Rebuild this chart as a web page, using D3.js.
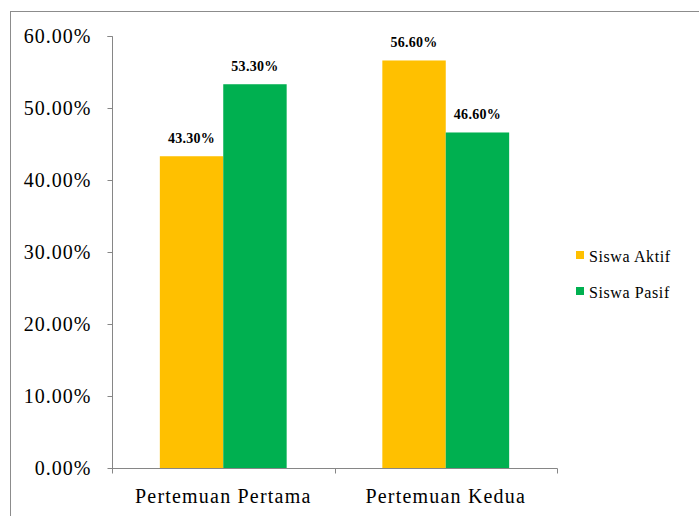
<!DOCTYPE html>
<html>
<head>
<meta charset="utf-8">
<script src="https://cdn.jsdelivr.net/npm/d3@7"></script>
<style>
  html, body { margin: 0; padding: 0; background: #fff; }
  svg { display: block; }
</style>
</head>
<body>
<svg id="chart" width="699" height="516"></svg>
<script>
// Chart data
const categories = ["Pertemuan Pertama", "Pertemuan Kedua"];
const seriesNames = ["Siswa Aktif", "Siswa Pasif"];
const siswaAktif = [43.3, 56.6];
const siswaPasif = [53.3, 46.6];
const seriesColors = ["#FFC000", "#00B050"];
const yTicks = [0, 10, 20, 30, 40, 50, 60];

const seriesValues = [siswaAktif, siswaPasif];
const rows = categories.map((c, i) => ({
  category: c,
  values: seriesNames.map((s, j) => ({ series: s, value: seriesValues[j][i], color: seriesColors[j] }))
}));

const FONT = '"Liberation Serif", "Times New Roman", serif';
const svg = d3.select("#chart");
const axisColor = "#868686";

// outer chart frame
svg.append("rect")
  .attr("x", 10.5).attr("y", 11.5)
  .attr("width", 800).attr("height", 600)
  .attr("fill", "none").attr("stroke", "#8c8c8c").attr("stroke-width", 1);

const plot = { left: 112, right: 557, top: 36, bottom: 468 };

const x0 = d3.scaleBand().domain(categories).range([plot.left, plot.right]).padding(0);
const gap = x0.bandwidth() * 0.215;
const x1 = d3.scaleBand().domain(seriesNames).range([gap, x0.bandwidth() - gap]).padding(0);
const y = d3.scaleLinear().domain([0, 60]).range([plot.bottom, plot.top]);

// y axis
const yAxis = svg.append("g")
  .attr("transform", `translate(${plot.left + 0.5},0)`)
  .call(d3.axisLeft(y).tickValues(yTicks).tickSize(5).tickPadding(16)
    .tickFormat(d => d.toFixed(2) + "%"));
yAxis.select(".domain").attr("stroke", axisColor).attr("d", `M-5,${plot.top + 0.5}H0V${plot.bottom + 0.5}`);
yAxis.selectAll(".tick line").attr("stroke", axisColor);
yAxis.selectAll(".tick").attr("transform", d => `translate(0,${y(d) + 0.5})`);
yAxis.selectAll(".tick text")
  .style("font-family", FONT)
  .style("font-size", "20px").style("letter-spacing", "1px").attr("fill", "#000")
  .attr("dy", "0.34em");

// bars
const groups = svg.append("g").selectAll("g")
  .data(rows).join("g")
  .attr("transform", d => `translate(${x0(d.category)},0)`);

groups.selectAll("rect")
  .data(d => d.values).join("rect")
  .attr("x", d => x1(d.series))
  .attr("y", d => y(d.value))
  .attr("width", x1.bandwidth())
  .attr("height", d => y(0) - y(d.value))
  .attr("fill", d => d.color);

// value labels
groups.selectAll("text")
  .data(d => d.values).join("text")
  .attr("x", d => x1(d.series) + x1.bandwidth() / 2)
  .attr("y", d => y(d.value) - 13)
  .attr("text-anchor", "middle")
  .style("font-family", FONT)
  .style("font-size", "14px").style("font-weight", "bold").style("letter-spacing", "0.3px")
  .text(d => d.value.toFixed(2) + "%");

// x axis
const xAxis = svg.append("g").attr("transform", `translate(0,${plot.bottom + 0.5})`);
xAxis.append("path")
  .attr("d", `M${plot.left},0H${plot.right + 0.5}`)
  .attr("stroke", axisColor).attr("fill", "none");
const boundaries = categories.map(c => x0(c)).concat([plot.right]);
xAxis.selectAll("line.tick").data(boundaries).join("line")
  .attr("class", "tick")
  .attr("x1", d => Math.round(d) + 0.5).attr("x2", d => Math.round(d) + 0.5)
  .attr("y1", 0).attr("y2", 5)
  .attr("stroke", axisColor);
xAxis.selectAll("text").data(categories).join("text")
  .attr("x", d => x0(d) + x0.bandwidth() / 2)
  .attr("y", 34)
  .attr("text-anchor", "middle")
  .style("font-family", FONT)
  .style("font-size", "20px").style("letter-spacing", "1.2px")
  .text(d => d);

// legend
const legend = svg.append("g").attr("transform", "translate(576,0)");
const legendRows = legend.selectAll("g").data(seriesNames).join("g")
  .attr("transform", (d, i) => `translate(0,${262 + i * 36})`);
legendRows.append("rect")
  .attr("x", 0).attr("y", -11).attr("width", 8).attr("height", 8)
  .attr("fill", (d, i) => seriesColors[i]);
legendRows.append("text")
  .attr("x", 13).attr("y", 0)
  .style("font-family", FONT)
  .style("font-size", "16px").style("letter-spacing", "0.6px")
  .text(d => d);
</script>
</body>
</html>
